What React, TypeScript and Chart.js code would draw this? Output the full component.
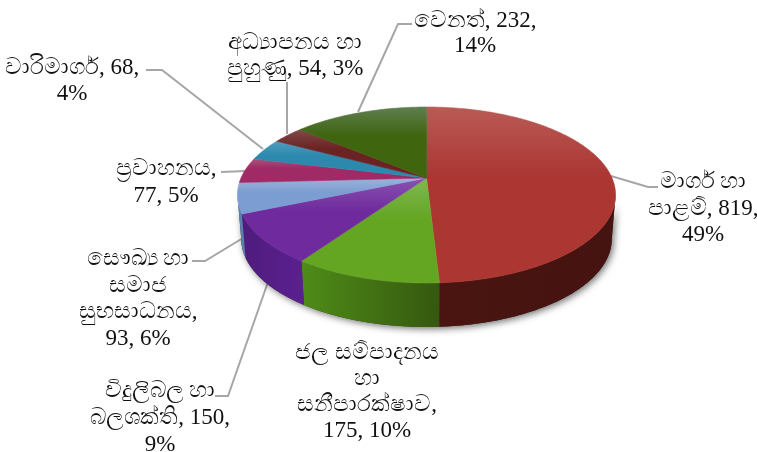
import React, { useEffect, useRef } from "react";
import { Chart, registerables } from "chart.js";

Chart.register(...registerables);

const categories = ["මාර්ග හා පාළම්", "ජල සම්පාදනය හා සනීපාරක්ෂාව", "විදුලිබල හා බලශක්ති", "සෞඛ්‍ය හා සමාජ සුභසාධනය", "ප්‍රවාහනය", "වාරිමාර්ග", "අධ්‍යාපනය හා පුහුණු", "වෙනත්"];
const values = [819, 175, 150, 93, 77, 68, 54, 232];
const labelLines = [
  ["මාර්ග හා", "පාළම්, 819,", "49%"],
  ["ජල සම්පාදනය", "හා", "සනීපාරක්ෂාව,", "175, 10%"],
  ["විදුලිබල හා", "බලශක්ති, 150,", "9%"],
  ["සෞඛ්‍ය හා", "සමාජ", "සුභසාධනය,", "93, 6%"],
  ["ප්‍රවාහනය,", "77, 5%"],
  ["වාරිමාර්ග, 68,", "4%"],
  ["අධ්‍යාපනය හා", "පුහුණු, 54, 3%"],
  ["වෙනත්, 232,", "14%"],
];
const baseColors = ["#ab3632", "#64a522", "#6f2a9e", "#7c9dd1", "#a02a66", "#2c89ad", "#6b2222", "#3f650f"];
const lightColors = ["#ba5a55", "#7fb850", "#8a52b0", "#9cb3db", "#a9517a", "#4f9dbe", "#7f4a48", "#5f7e50"];
const wallLeft = ["#4a1511", "#4f8c17", "#4f1c7c", "#5b7db0", "#5e1a40", "#1c5a72", "#401414", "#2a430a"];
const wallRight = ["#451310", "#35580f", "#5a2090", "#5b7db0", "#5e1a40", "#1c5a72", "#401414", "#2a430a"];
const labelCenters = [[703, 182], [367, 353], [160, 391], [138, 259], [166, 169], [72, 68], [295, 43], [475, 21]];
const labelSteps = [26.5, 26, 27, 26.7, 27, 26, 26, 25];
const leaders = [
  [[611, 176], [648, 187], [658, 187]],
  [],
  [[268, 282], [228, 396], [215, 396]],
  [[243, 238], [205, 261], [192, 261]],
  [[246, 171], [221, 172]],
  [[263, 149], [162, 70], [146, 70]],
  [[287, 134], [287, 82]],
  [[358, 112], [398, 24], [412, 24]],
];

const GEO = { cx: 426.5, cy: 178, a: 185.5, b: 84.7, k: 0.193, depth: 44, inset: 0.98 };

function project(theta: number) {
  const u = Math.sin(theta);
  const v = Math.cos(theta);
  const w = 1 + GEO.k * v;
  return [GEO.cx + (GEO.a * u) / w, GEO.cy - (GEO.b * v) / w];
}
function projectBottom(theta: number) {
  const p = project(theta);
  return [GEO.cx + (p[0] - GEO.cx) * GEO.inset, p[1] + GEO.depth];
}
function samples(from: number, to: number) {
  const n = Math.max(2, Math.ceil(Math.abs(to - from) * 60));
  const out: number[] = [];
  for (let i = 0; i <= n; i++) out.push(from + ((to - from) * i) / n);
  return out;
}

const piePlugin = {
  id: "perspectivePie",
  beforeDatasetDraw(chart: any) {
    const ctx: CanvasRenderingContext2D = chart.ctx;
    const arcs = chart.getDatasetMeta(0).data;
    const wallFrom = Math.acos(-GEO.k);
    const wallTo = 2 * Math.PI - wallFrom;

    ctx.save();
    ctx.strokeStyle = "#a6a6a6";
    ctx.lineWidth = 2;
    leaders.forEach((pts) => {
      if (!pts.length) return;
      ctx.beginPath();
      pts.forEach((p, i) => (i ? ctx.lineTo(p[0], p[1]) : ctx.moveTo(p[0], p[1])));
      ctx.stroke();
    });

    // soft shadow under the solid
    ctx.save();
    ctx.shadowColor = "rgba(0,0,0,0.55)";
    ctx.shadowBlur = 7;
    ctx.shadowOffsetX = 2;
    ctx.shadowOffsetY = 2;
    ctx.fillStyle = "#333";
    ctx.beginPath();
    samples(wallFrom, wallTo).forEach((t, i) => {
      const p = projectBottom(t);
      if (i) ctx.lineTo(p[0], p[1]);
      else ctx.moveTo(p[0], p[1]);
    });
    samples(wallTo, wallFrom).forEach((t) => {
      const p = project(t);
      ctx.lineTo(p[0], p[1]);
    });
    ctx.closePath();
    ctx.fill();
    ctx.restore();

    arcs.forEach((arc: any, i: number) => {
      const s = arc.startAngle + Math.PI / 2;
      const e = arc.endAngle + Math.PI / 2;
      const from = Math.max(s, wallFrom);
      const to = Math.min(e, wallTo);
      if (to > from) {
        const left = project(to)[0];
        const right = project(from)[0];
        const g = ctx.createLinearGradient(left, 0, right, 0);
        g.addColorStop(0, wallLeft[i]);
        g.addColorStop(1, wallRight[i]);
        ctx.fillStyle = g;
        ctx.beginPath();
        samples(from, to).forEach((t, j) => {
          const p = project(t);
          if (j) ctx.lineTo(p[0], p[1]);
          else ctx.moveTo(p[0], p[1]);
        });
        samples(to, from).forEach((t) => {
          const p = projectBottom(t);
          ctx.lineTo(p[0], p[1]);
        });
        ctx.closePath();
        ctx.fill();
      }
    });

    arcs.forEach((arc: any, i: number) => {
      const s = arc.startAngle + Math.PI / 2;
      const e = arc.endAngle + Math.PI / 2;
      const pts = samples(s, e).map(project);
      const ys = pts.map((p) => p[1]).concat([GEO.cy]);
      const top = Math.min(...ys);
      const bot = Math.max(...ys);
      const g = ctx.createLinearGradient(0, top, 0, bot);
      g.addColorStop(0, lightColors[i]);
      g.addColorStop(0.4, arc.options.backgroundColor);
      g.addColorStop(1, arc.options.backgroundColor);
      ctx.fillStyle = g;
      ctx.strokeStyle = g;
      ctx.lineWidth = 0.6;
      ctx.beginPath();
      ctx.moveTo(GEO.cx, GEO.cy);
      pts.forEach((p) => ctx.lineTo(p[0], p[1]));
      ctx.closePath();
      ctx.fill();
      ctx.stroke();
    });

    ctx.fillStyle = "#111";
    ctx.font = '23px "Liberation Serif", serif';
    ctx.textAlign = "center";
    ctx.textBaseline = "middle";
    labelLines.forEach((lines, i) => {
      lines.forEach((line, j) => {
        ctx.fillText(line, labelCenters[i][0], labelCenters[i][1] + j * labelSteps[i]);
      });
    });
    ctx.restore();
    return false;
  },
};

export default function App() {
  const ref = useRef<HTMLCanvasElement>(null);
  useEffect(() => {
    const chart = new Chart(ref.current!, {
      type: "pie",
      data: {
        labels: categories,
        datasets: [{ data: values, backgroundColor: baseColors, borderWidth: 0 }],
      },
      options: {
        responsive: false,
        animation: false,
        events: [],
        plugins: { legend: { display: false }, tooltip: { enabled: false } },
      },
      plugins: [piePlugin],
    } as any);
    return () => chart.destroy();
  }, []);
  return (
    <div style={{ position: "absolute", left: 0, top: 0, width: 757, height: 452, background: "#fff" }}>
      <canvas ref={ref} width={757} height={452} style={{ display: "block" }} />
    </div>
  );
}
